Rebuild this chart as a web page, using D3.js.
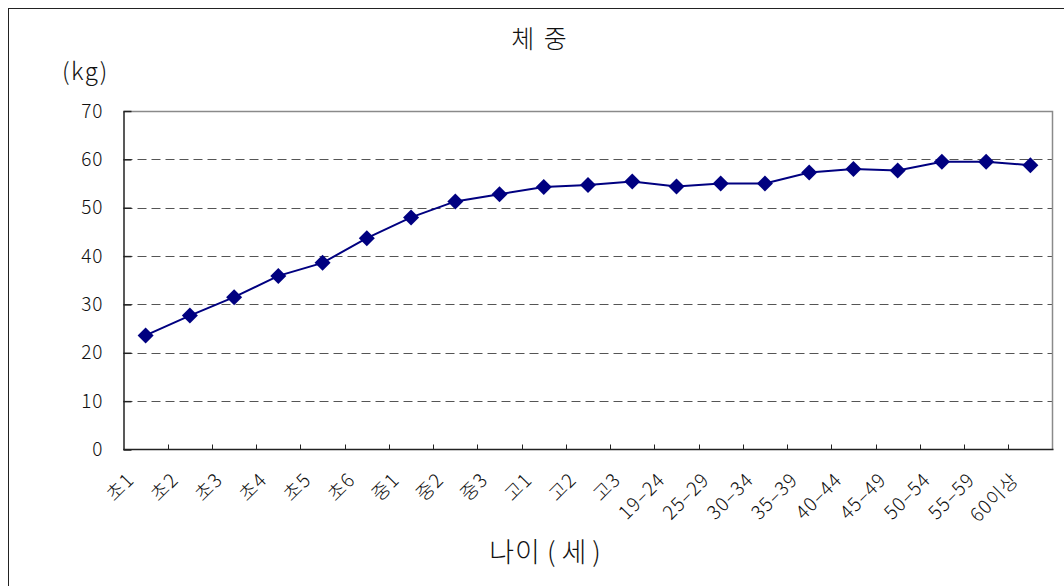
<!DOCTYPE html>
<html>
<head>
<meta charset="utf-8">
<script src="https://cdn.jsdelivr.net/npm/d3@7/dist/d3.min.js"></script>
<style>
  html, body { margin: 0; padding: 0; background: #fff; }
  svg { display: block; }
  text { font-family: "Noto Sans CJK KR", "Noto Sans", sans-serif; font-weight: 300; fill: #111; }
</style>
</head>
<body>
<svg id="chart" width="1064" height="586"></svg>
<script>
// Age groups (x categories)
const categories = ["초1", "초2", "초3", "초4", "초5", "초6", "중1", "중2", "중3", "고1", "고2", "고3",
  "19-24", "25-29", "30-34", "35-39", "40-44", "45-49", "50-54", "55-59", "60이상"];
// Mean body weight (kg)
const weights = [23.6, 27.7, 31.5, 35.9, 38.6, 43.7, 48.0, 51.3, 52.8, 54.3, 54.7, 55.4,
  54.4, 55.0, 55.0, 57.3, 58.0, 57.7, 59.5, 59.5, 58.8];
const yTicks = [0, 10, 20, 30, 40, 50, 60, 70];

const m = { left: 123.5, top: 111, right: 1052.5, bottom: 449.5 };

const svg = d3.select("#chart");

// outer frame
svg.append("rect")
  .attr("x", 8.5).attr("y", 8.5).attr("width", 1100).attr("height", 600)
  .attr("fill", "none").attr("stroke", "#222").attr("stroke-width", 1);

const x = d3.scaleBand().domain(categories).range([m.left, m.right]).paddingInner(0).paddingOuter(0);
const y = d3.scaleLinear().domain([0, 70]).range([m.bottom, m.top]);

// dashed gridlines
svg.append("g")
  .selectAll("line")
  .data(yTicks.filter(v => v > 0 && v < 70))
  .join("line")
  .attr("x1", m.left).attr("x2", m.right)
  .attr("y1", d => Math.round(y(d)) + 0.5).attr("y2", d => Math.round(y(d)) + 0.5)
  .attr("stroke", "#555").attr("stroke-width", 1).attr("stroke-dasharray", "9,5");

// plot area top/right border
svg.append("path")
  .attr("d", `M${m.left},${m.top + 0.5}H${m.right}V${m.bottom}`)
  .attr("fill", "none").attr("stroke", "#8a8a8a").attr("stroke-width", 1.5);

// y axis
const yAxis = d3.axisLeft(y).tickValues(yTicks).tickSizeInner(-8).tickSizeOuter(0).tickPadding(20);
const gy = svg.append("g").attr("transform", `translate(${m.left},0)`).call(yAxis);
gy.select(".domain").attr("stroke", "#222").attr("stroke-width", 1.5);
gy.selectAll(".tick line").attr("stroke", "#222").attr("stroke-width", 1.5);
gy.selectAll(".tick text").attr("font-size", 19).attr("fill", "#222")
  .attr("letter-spacing", 1)
  .style("font-family", "'Noto Sans CJK KR', sans-serif").style("font-weight", 300);

// x axis: ticks at category boundaries, pointing up into the plot
const gx = svg.append("g").attr("transform", `translate(0,${m.bottom})`);
gx.append("line").attr("x1", m.left).attr("x2", m.right + 1).attr("y1", 0).attr("y2", 0)
  .attr("stroke", "#222").attr("stroke-width", 1.5);
gx.selectAll("line.tk")
  .data(categories.slice(1))
  .join("line").attr("class", "tk")
  .attr("x1", d => Math.round(x(d)) + 0.5).attr("x2", d => Math.round(x(d)) + 0.5)
  .attr("y1", 0).attr("y2", -5)
  .attr("stroke", "#222").attr("stroke-width", 1);
gx.selectAll("text")
  .data(categories)
  .join("text")
  .attr("transform", d => `translate(${x(d) + x.bandwidth() / 2 - 15},27) rotate(-45)`)
  .attr("text-anchor", "end")
  .attr("dy", "0.35em")
  .attr("font-size", 19)
  .attr("letter-spacing", 1)
  .attr("fill", "#222")
  .text(d => d.replace("-", "–"));

// series line
const line = d3.line()
  .x((d, i) => x(categories[i]) + x.bandwidth() / 2)
  .y(d => y(d));
svg.append("path")
  .datum(weights)
  .attr("d", line)
  .attr("fill", "none")
  .attr("stroke", "#000080")
  .attr("stroke-width", 2);

// diamond markers
svg.append("g")
  .selectAll("path")
  .data(weights)
  .join("path")
  .attr("transform", (d, i) => `translate(${x(categories[i]) + x.bandwidth() / 2},${y(d)}) rotate(45)`)
  .attr("d", d3.symbol().type(d3.symbolSquare).size(128))
  .attr("fill", "#000080");

// titles
svg.append("text")
  .attr("x", 540).attr("y", 48)
  .attr("text-anchor", "middle")
  .attr("font-size", 25)
  .attr("letter-spacing", 2)
  .text("체 중");

svg.append("text")
  .attr("x", 62).attr("y", 80)
  .attr("font-size", 24)
  .attr("letter-spacing", 1.5)
  .text("(kg)");

const xt = svg.append("text")
  .attr("x", 548).attr("y", 562)
  .attr("text-anchor", "middle")
  .attr("font-size", 27);
xt.append("tspan").attr("letter-spacing", 1).text("나이");
xt.append("tspan").attr("dx", 6).attr("letter-spacing", 6).text("(세)");
</script>
</body>
</html>
